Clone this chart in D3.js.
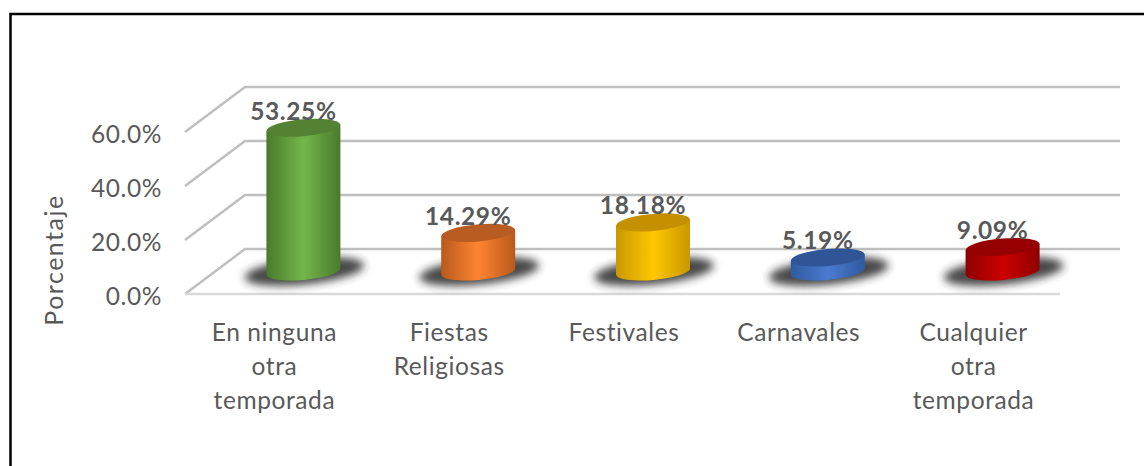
<!DOCTYPE html>
<html>
<head>
<meta charset="utf-8">
<script src="https://cdnjs.cloudflare.com/ajax/libs/d3/7.8.5/d3.min.js"></script>
<style>
  html, body { margin: 0; padding: 0; background: #fff; }
  svg { display: block; }
  text { font-family: Lato, sans-serif; fill: #595959; letter-spacing: 0.6px; }
</style>
</head>
<body>
<script>
var categories = [["En ninguna", "otra", "temporada"], ["Fiestas", "Religiosas"], ["Festivales"], ["Carnavales"], ["Cualquier", "otra", "temporada"]];
var values = [53.25, 14.29, 18.18, 5.19, 9.09];
var yTicks = [0, 20, 40, 60];
// edge, middle, top
var colours = [["#4a7a2a", "#74b64c", "#548235"], ["#b85a1c", "#ff8431", "#b85c22"], ["#c99700", "#ffc800", "#c49000"], ["#2f5aa0", "#4a7bd0", "#2f5597"], ["#8e0000", "#cc0000", "#960000"]];

var width = 1144, height = 466;
var depthX = 60, depthY = 45; // 3d offset of the back wall
var rx = 37, ry = 8.5, tilt = 5;

var x = d3.scaleBand().domain(d3.range(values.length)).range([187, 1061]);
var y = d3.scaleLinear().domain([0, 60]).range([294, 132]);

var svg = d3.select("body").append("svg").attr("width", width).attr("height", height);
var defs = svg.append("defs");

defs.append("filter").attr("id", "blur")
  .attr("x", "-30%").attr("y", "-80%").attr("width", "160%").attr("height", "260%")
  .append("feGaussianBlur").attr("stdDeviation", 4);

colours.forEach(function (c, i) {
  var g = defs.append("linearGradient").attr("id", "body" + i);
  g.append("stop").attr("offset", "0%").attr("stop-color", c[0]);
  g.append("stop").attr("offset", "50%").attr("stop-color", c[1]);
  g.append("stop").attr("offset", "100%").attr("stop-color", c[0]);
});

// frame
svg.append("path").attr("d", "M10.5,466V14H1144").attr("fill", "none").attr("stroke", "#000").attr("stroke-width", 2.5);

// grid: side wall, back wall
var grid = svg.append("g").attr("fill", "none").attr("stroke", "#bfbfbf").attr("stroke-width", 2.5);
yTicks.forEach(function (t) {
  var x0 = x.range()[0] - 2;
  grid.append("path").attr("d", "M" + x0 + "," + y(t) + "L" + (x0 + depthX) + "," + (y(t) - depthY) + "H" + (x.range()[1] + depthX - 1));
});
svg.append("line")
  .attr("x1", x.range()[0] - 2).attr("x2", x.range()[1] - 1)
  .attr("y1", y(0)).attr("y2", y(0))
  .attr("stroke", "#d9d9d9").attr("stroke-width", 2.5);

// y tick labels
svg.append("g").selectAll("text").data(yTicks).enter().append("text")
  .attr("x", 162).attr("y", function (d) { return y(d) + 11; })
  .attr("text-anchor", "end").attr("font-size", 24.5)
  .text(function (d) { return d.toFixed(1) + "%"; });

svg.append("text")
  .attr("transform", "translate(63,260) rotate(-90)")
  .attr("text-anchor", "middle").attr("font-size", 25)
  .style("letter-spacing", "1.5px")
  .text("Porcentaje");

function cx(i) { return x(i) + x.bandwidth() / 2 + depthX / 2 - 1; }
var baseY = y(0) - depthY / 2;
function topY(v) { return y(v) - depthY / 2; }

var dx = rx, dy = rx * Math.sin(tilt * Math.PI / 180);

var bars = svg.append("g").selectAll("g").data(values).enter().append("g");

// floor shadow
bars.append("ellipse")
  .attr("cx", function (d, i) { return cx(i) + 1; })
  .attr("cy", baseY)
  .attr("rx", 60).attr("ry", 13)
  .attr("fill", "#262626").attr("opacity", 0.85)
  .attr("filter", "url(#blur)")
  .attr("transform", function (d, i) { return "rotate(-6 " + cx(i) + " " + baseY + ")"; });

// cylinder side
bars.append("path")
  .attr("fill", function (d, i) { return "url(#body" + i + ")"; })
  .attr("d", function (d, i) {
    var c = cx(i), t = topY(d);
    return "M" + (c - dx) + "," + (t + dy) +
      "L" + (c - dx) + "," + (baseY + dy) +
      "A" + rx + "," + ry + " " + (-tilt) + " 0 0 " + (c + dx) + "," + (baseY - dy) +
      "L" + (c + dx) + "," + (t - dy) + "Z";
  });

// cylinder top
bars.append("ellipse")
  .attr("cx", function (d, i) { return cx(i); })
  .attr("cy", function (d) { return topY(d); })
  .attr("rx", rx).attr("ry", ry)
  .attr("fill", function (d, i) { return colours[i][2]; })
  .attr("transform", function (d, i) { return "rotate(" + (-tilt) + " " + cx(i) + " " + topY(d) + ")"; });

// data labels
bars.append("text")
  .attr("x", function (d, i) { return cx(i) - 10; })
  .attr("y", function (d) { return topY(d) - 8; })
  .attr("text-anchor", "middle").attr("font-size", 24.5).attr("font-weight", 700)
  .text(function (d) { return d.toFixed(2) + "%"; });

// category labels
var cats = svg.append("g").selectAll("text").data(categories).enter().append("text")
  .attr("text-anchor", "middle").attr("font-size", 24.5);
cats.selectAll("tspan").data(function (d, i) { return d.map(function (s) { return { s: s, i: i }; }); })
  .enter().append("tspan")
  .attr("x", function (d) { return x(d.i) + x.bandwidth() / 2; })
  .attr("y", function (d, j) { return 341 + j * 34; })
  .text(function (d) { return d.s; });
</script>
</body>
</html>
